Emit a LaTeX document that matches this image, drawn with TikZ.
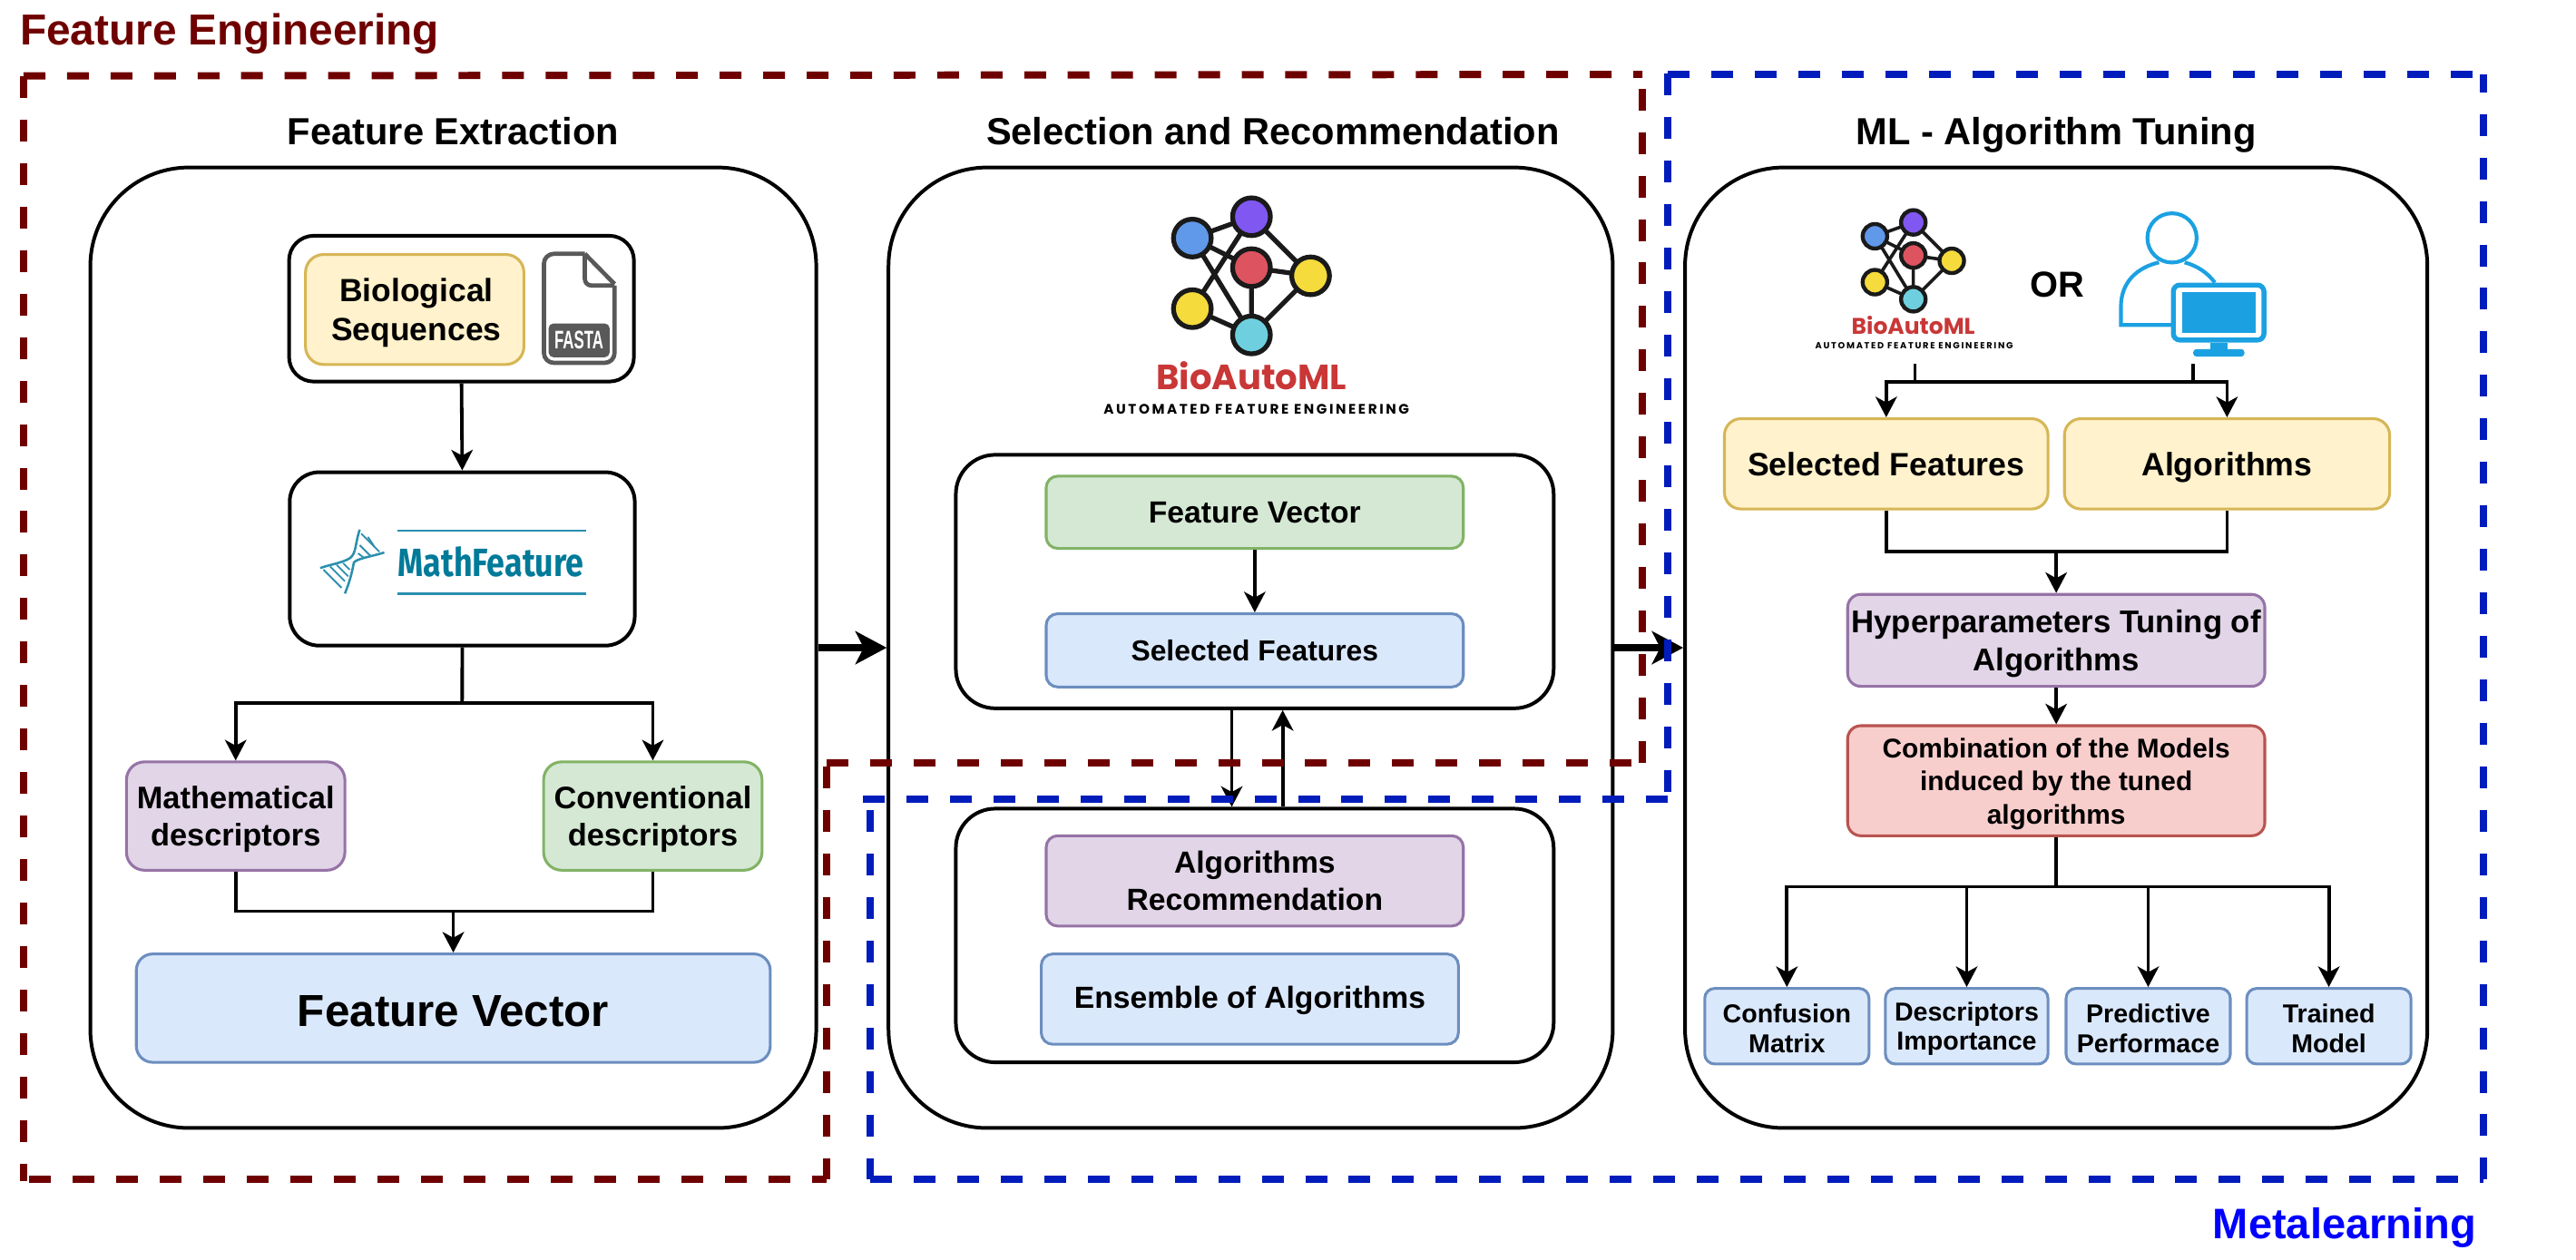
\documentclass[tikz,border=0pt]{standalone}
\usepackage{fontspec}
\setmainfont{Liberation Sans}
\newfontfamily\popfont{Poppins}
\newfontfamily\firafont{Fira Sans}
\usetikzlibrary{arrows.meta}
\definecolor{fred}{HTML}{6F0000}
\definecolor{mblue}{HTML}{001DBC}
\definecolor{tealx}{HTML}{007A99}
\definecolor{teall}{HTML}{2A8FAE}
\definecolor{iconb}{HTML}{1BA1E2}
\definecolor{fastag}{HTML}{595959}
\tikzset{
 x=1pt,y=-1pt,
 panel/.style={draw=black,line width=2.2pt,fill=white,rounded corners=#1,inner sep=0pt},
 panel/.default=60pt,
 cbox/.style={line width=1.7pt,rounded corners=#1,inner sep=0pt},
 yelb/.style={cbox=#1,draw={rgb,255:red,214;green,182;blue,86},fill={rgb,255:red,255;green,242;blue,204}},
 purb/.style={cbox=#1,draw={rgb,255:red,150;green,115;blue,166},fill={rgb,255:red,225;green,213;blue,231}},
 grnb/.style={cbox=#1,draw={rgb,255:red,130;green,179;blue,102},fill={rgb,255:red,213;green,232;blue,212}},
 blub/.style={cbox=#1,draw={rgb,255:red,108;green,142;blue,191},fill={rgb,255:red,218;green,232;blue,252}},
 redb/.style={cbox=#1,draw={rgb,255:red,184;green,84;blue,80},fill={rgb,255:red,248;green,206;blue,204}},
 fs/.style n args={2}{font=\fontsize{#1}{#2}\selectfont\bfseries},
 conn/.style={draw=black,line width=2.1pt},
 arr/.style={conn,-{Stealth[length=12.5pt,width=13pt,inset=3.5pt]}},
 bigarr/.style={draw=black,line width=4.2pt,-{Stealth[length=19pt,width=20pt,inset=5pt]}},
 ttl/.style={font=\fontsize{23}{27}\selectfont\bfseries,inner sep=0pt},
 frm/.style={line width=4.4pt,dash pattern=on 13.26pt off 13.23pt},
 dot/.style={circle,draw={rgb,255:red,26;green,26;blue,26},inner sep=0pt,outer sep=0pt},
 edge/.style={draw={rgb,255:red,26;green,26;blue,26}},
}
% [label options]{name}{box style}{x1}{y1}{x2}{y2}{text}
\newcommand\boxn[8][]{%
 \pgfmathsetmacro\myw{#6-#4}\pgfmathsetmacro\myh{#7-#5}%
 \pgfmathsetmacro\myx{(#4+#6)/2}\pgfmathsetmacro\myy{(#5+#7)/2}%
 \node[#3,minimum width=\myw pt,minimum height=\myh pt,label={[align=center,inner sep=0pt,#1]center:{#8}}] (#2) at (\myx,\myy) {};}
% prefix, cx, cy, scale, ring stroke, edge stroke
\newcommand\biologo[6]{%
 \pgfmathsetmacro\lgd{23*#4}%
 \begin{scope}[shift={(#2,#3)},scale=#4,every node/.append style={dot,minimum size=\lgd pt,line width=#5pt}]
  \node[fill={rgb,255:red,96;green,152;blue,234}] (#1a) at (-36,-18) {};
  \node[fill={rgb,255:red,128;green,87;blue,240}] (#1b) at (0,-31) {};
  \node[fill={rgb,255:red,221;green,83;blue,96}] (#1c) at (0,0) {};
  \node[fill={rgb,255:red,245;green,219;blue,59}] (#1d) at (36,5) {};
  \node[fill={rgb,255:red,245;green,219;blue,59}] (#1e) at (-36,25) {};
  \node[fill={rgb,255:red,110;green,208;blue,223}] (#1f) at (0,41) {};
  \draw[edge,line width=#6pt] (#1a)--(#1b) (#1a)--(#1c) (#1a)--(#1f) (#1b)--(#1e) (#1b)--(#1d)
     (#1c)--(#1d) (#1c)--(#1f) (#1e)--(#1f) (#1d)--(#1f);
 \end{scope}}
\begin{document}
\begin{tikzpicture}
\useasboundingbox (0,0) rectangle (1568.5,767.4);
\fill[white] (0,0) rectangle (1568.5,767.4);

% panels
\boxn{p1}{panel}{55}{102}{497}{687}{}
\boxn{p2}{panel}{541}{102}{982}{687}{}
\boxn{p3}{panel}{1026}{102}{1478}{687}{}
\node[ttl] (t1) at (276,80) {Feature Extraction};
\node[ttl] (t2) at (775,80) {Selection and Recommendation};
\node[ttl] (t3) at (1252,82) {ML - Algorithm Tuning};

% panel 1
\boxn{bio}{panel=15pt}{176}{143.6}{386}{232.4}{}
\boxn[fs={19.6}{24},yshift=-2pt,xshift=1pt]{seq}{yelb=11pt}{186}{155}{319}{222}{Biological\\Sequences}
% FASTA icon
\draw[fastag,line width=2.6pt,line join=round,rounded corners=6pt] (356.1,154.6) -- (331.2,154.6) -- (331.2,221) -- (374.2,221) -- (374.2,173.9);
\draw[fastag,line width=2.6pt,line join=round] (356.1,154.6) -- (374.2,173);
\draw[fastag,line width=2.6pt,line join=round,rounded corners=4pt] (356.1,154.6) -- (356.1,173.9) -- (374.2,173.9);
\fill[fastag,rounded corners=3pt] (334,197) -- (371.2,197) -- (371.2,217.6) -- (334,217.6) -- cycle;
\node[inner sep=0pt,text=white,font=\fontsize{15.5}{16}\selectfont\bfseries] (fasta) at (352.5,207.2) {\scalebox{0.6}[1]{FASTA}};

\boxn{mf}{panel=18pt}{176.4}{287.6}{386.5}{393.2}{}
\draw[teall,line width=1.2pt] (242,323.1) -- (357,323.1);
\draw[teall,line width=1.2pt] (242,361.6) -- (357,361.6);
\node[inner sep=0pt,text=tealx,anchor=west,font=\fontsize{24}{26}\firafont\bfseries] (mft) at (242,342.3) {\scalebox{0.825}[1]{MathFeature}};
% DNA
\begin{scope}[teall,line width=1.4pt]
 \draw (219.0,322.6) .. controls (216,332) and (217,337) .. (213,340) .. controls (208,343) and (200,344) .. (195.0,346.0);
 \draw (234.0,336.5) .. controls (226,339) and (218,340) .. (215.5,342.5) .. controls (214,350) and (213,354) .. (210.0,361.5);
 \foreach \a/\b/\c/\d in {220/325/231/336, 224/327/228/333, 219/332/226/339, 218/337/222/340,
   197/347/208/358, 201/345/210/354, 205/344/212/351, 209/343/213/347}
   \draw[line width=1pt] (\a,\b) -- (\c,\d);
\end{scope}

\boxn[fs={19}{23},yshift=-2pt]{mathd}{purb=11pt}{77}{464}{210}{530}{Mathematical\\descriptors}
\boxn[fs={19}{23},yshift=-2pt]{convd}{grnb=11pt}{331}{464}{464}{530}{Conventional\\descriptors}
\boxn[fs={27.3}{30},yshift=-2pt]{fv}{blub=10pt}{83}{581}{469}{647}{Feature Vector}
\coordinate (j1) at (281.4,428);
\coordinate (j2) at (276,555);
\draw[arr] (bio.south) -- (mf.north);
\draw[conn] (mf.south) -- (j1);
\draw[arr] (j1) -| (mathd.north);
\draw[arr] (j1) -| (convd.north);
\draw[conn] (mathd.south) |- (j2) -| (convd.south);
\draw[arr] (j2) -- (fv.north);

% panel 2
\biologo{bl}{762}{163}{1}{2.9}{2.9}
\node[inner sep=0pt,text={rgb,255:red,201;green,55;blue,55},font=\fontsize{21.3}{24}\popfont\bfseries] (blt) at (762,229) {BioAutoML};
\node[inner sep=0pt,font=\fontsize{8.4}{10}\popfont\bfseries\addfontfeature{LetterSpace=17}] (bls) at (765,249) {AUTOMATED FEATURE ENGINEERING};
\boxn{up}{panel=24pt}{582}{277}{946}{431.4}{}
\boxn[fs={18.6}{22}]{fvp}{grnb=7pt}{637}{290}{891}{334}{Feature Vector}
\boxn[fs={17.6}{22}]{selp}{blub=7pt}{637}{373.8}{891}{418.4}{Selected Features}
\boxn{low}{panel=24pt}{582}{492.5}{946}{647}{}
\boxn[fs={18.6}{23}]{recp}{purb=7pt}{637}{509}{891}{564}{Algorithms\\Recommendation}
\boxn[fs={18.6}{22},yshift=-1pt]{ensp}{blub=7pt}{634}{581}{888}{636}{Ensemble of Algorithms}
\draw[arr] (fvp.south) -- (selp.north);
\draw[arr] ([xshift=-14pt]up.south) -- ([xshift=-14pt]low.north);
\draw[arr] ([xshift=17pt]low.north) -- ([xshift=17pt]up.south);

% panel 3
\biologo{bs}{1165}{155.6}{0.65}{2.4}{2.0}
\node[inner sep=0pt,text={rgb,255:red,201;green,55;blue,55},font=\fontsize{13.8}{15}\popfont\bfseries] (bst) at (1165,198) {BioAutoML};
\node[inner sep=0pt,font=\fontsize{5.4}{7}\popfont\bfseries\addfontfeature{LetterSpace=17.6}] (bss) at (1165.5,210.8) {AUTOMATED FEATURE ENGINEERING};
\node[inner sep=0pt,font=\fontsize{22}{24}\selectfont\bfseries] (ortxt) at (1252.5,173.4) {OR};
% user icon
\node[circle,draw=iconb,line width=2.3pt,fill=white,minimum size=30pt,inner sep=0pt] (head) at (1322.5,144.9) {};
\draw[iconb,line width=2.3pt] (1322.4,197.9) -- (1291.4,197.9) -- (1291.4,186.8) .. controls (1291.4,172) and (1301,163) .. (1314.6,159.8);
\draw[iconb,line width=2.3pt] (1330.2,159.8) .. controls (1338,162) and (1344,166) .. (1348.6,172.1);
\draw[iconb,line width=3pt,fill=white,rounded corners=4pt] (1323.3,173.6) rectangle (1378.5,207.1);
\fill[iconb] (1328.8,178) rectangle (1373.2,202.8);
\fill[iconb] (1345.7,208.6) rectangle (1356.3,213);
\fill[iconb,rounded corners=2pt] (1335.4,212.6) rectangle (1366.6,217.2);

\boxn[fs={19.7}{23}]{sf3}{yelb=10pt}{1050}{255}{1247}{310}{Selected Features}
\boxn[fs={19.7}{23},yshift=-2pt]{al3}{yelb=10pt}{1257}{255}{1455}{310}{Algorithms}
\boxn[fs={19.2}{23},yshift=-2pt]{hyp}{purb=8pt}{1125}{362}{1379}{418}{Hyperparameters Tuning of\\Algorithms}
\boxn[fs={16.5}{20},yshift=-2pt]{comb}{redb=8pt}{1125}{442}{1379}{509}{Combination of the Models\\induced by the tuned\\algorithms}
\boxn[fs={15.8}{18},yshift=-1.5pt]{cm}{blub=6pt}{1038}{602}{1138}{648}{Confusion\\Matrix}
\boxn[fs={15.8}{18},yshift=-1.5pt]{di}{blub=6pt}{1148}{602}{1247}{648}{Descriptors\\Importance}
\boxn[fs={15.8}{18},yshift=-1.5pt]{pp}{blub=6pt}{1258}{602}{1358}{648}{Predictive\\Performace}
\boxn[fs={15.8}{18},yshift=-1.5pt]{tm}{blub=6pt}{1368}{602}{1468}{648}{Trained\\Model}
\coordinate (lo) at (1166,221.8);
\coordinate (ua) at (1335.4,221.8);
\coordinate (jlo) at (1166,232.5);
\coordinate (jua) at (1335.4,232.5);
\coordinate (j3) at (1252,336);
\coordinate (j5) at (1252,540);
\draw[conn] (lo) -- (jlo);
\draw[conn] (ua) -- (jua);
\draw[conn] (jlo) -- (jua);
\draw[arr] (jlo) -| (sf3.north);
\draw[arr] (jua) -| (al3.north);
\draw[conn] (sf3.south) |- (j3) -| (al3.south);
\draw[arr] (j3) -- (hyp.north);
\draw[arr] (hyp.south) -- (comb.north);
\draw[conn] (comb.south) -- (j5);
\draw[arr] (j5) -| (cm.north);
\draw[arr] (j5) -| (di.north);
\draw[arr] (j5) -| (pp.north);
\draw[arr] (j5) -| (tm.north);

% big arrows
\draw[bigarr] (p1.east) -- (p2.west);
\draw[bigarr] (p2.east) -- (p3.west);

% frames (drawn in reference pixels, each side with its own dash start)
\begin{scope}[x=0.5525pt,y=-0.5525pt]
\draw[frm,fred] (26,83.7) -- (1810,82);
\draw[frm,fred] (26,84) -- (26,1302.3);
\draw[frm,fred] (1810,97.7) -- (1810,841);
\draw[frm,fred] (911,841) -- (1798,841);
\draw[frm,fred] (911,845) -- (911,1300.3);
\draw[frm,fred] (32,1300.3) -- (911,1300.3);
\draw[frm,mblue] (1838,81.7) -- (2737,81.7);
\draw[frm,mblue] (1838,81.4) -- (1838,880);
\draw[frm,mblue,dash phase=2.2pt] (2737,81.7) -- (2737,1300);
\draw[frm,mblue] (1838,880.7) -- (951,880.7);
\draw[frm,mblue] (959,893) -- (959,1300);
\draw[frm,mblue] (959,1300.3) -- (2737,1300.3);
\end{scope}
\node[inner sep=0pt,anchor=west,text=fred,font=\fontsize{26.4}{30}\selectfont\bfseries] (fe) at (12,20.5) {Feature Engineering};
\node[inner sep=0pt,anchor=east,text={rgb,255:red,0;green,0;blue,255},font=\fontsize{26}{30}\selectfont\bfseries] (ml) at (1508,748) {Metalearning};
\end{tikzpicture}
\end{document}
